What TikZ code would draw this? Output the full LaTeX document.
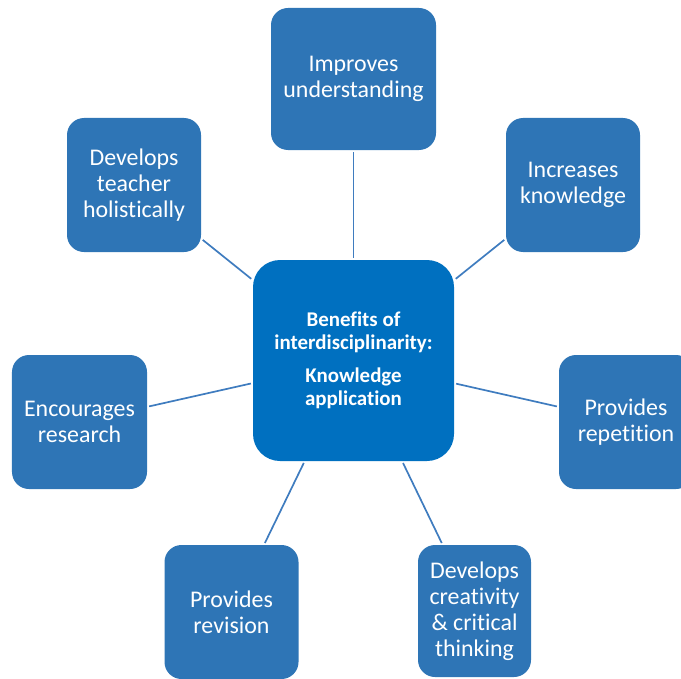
\documentclass[tikz,border=0pt]{standalone}
\usepackage{fontspec}
\setmainfont{Carlito}[Ligatures=NoCommon]
\definecolor{leafblue}{HTML}{2E75B6}
\definecolor{hubblue}{HTML}{0070C0}
\definecolor{linkblue}{HTML}{3F7CBF}

\begin{document}
\begin{tikzpicture}[x=1bp, y=-1bp,
  leaf/.style={fill=leafblue, rounded corners=17bp, text=white, align=center,
    inner sep=0pt, font=\fontsize{24}{26}\selectfont},
  hub/.style={fill=hubblue, rounded corners=27bp, text=white, align=center,
    inner sep=0pt, minimum width=201bp, minimum height=201bp,
    font=\fontsize{21}{23}\selectfont\bfseries},
  link/.style={draw=linkblue, line width=1.7bp, shorten <=2bp, shorten >=2bp}]
  \clip (0,0) rectangle (681,679);

  % centre box
  \node[hub] (hub) at (353.5,360.5)
    {Benefits of\\interdisciplinarity:\\[10bp]Knowledge\\application};

  % boxes round it, clockwise from the top
  \node[leaf, minimum width=165bp, minimum height=142bp] (understanding) at (353.5,79)
    {Improves\\understanding};
  \node[leaf, minimum width=134bp, minimum height=134bp] (knowledge) at (573,185)
    {Increases\\knowledge};
  \node[leaf, minimum width=134bp, minimum height=134bp] (repetition) at (626,422)
    {Provides\\repetition};
  \node[leaf, minimum width=113bp, minimum height=132bp] (creativity) at (474.5,611)
    {Develops\\creativity\\\& critical\\thinking};
  \node[leaf, minimum width=134bp, minimum height=134bp] (revision) at (231.5,612)
    {Provides\\revision};
  \node[leaf, minimum width=135bp, minimum height=134bp] (research) at (79.5,422)
    {Encourages\\research};
  \node[leaf, minimum width=134bp, minimum height=134bp] (teacher) at (134,185)
    {Develops\\teacher\\holistically};

  % spokes
  \foreach \leafname in {understanding,knowledge,repetition,creativity,revision,research,teacher}
    \draw[link] (hub) -- (\leafname);
\end{tikzpicture}
\end{document}
